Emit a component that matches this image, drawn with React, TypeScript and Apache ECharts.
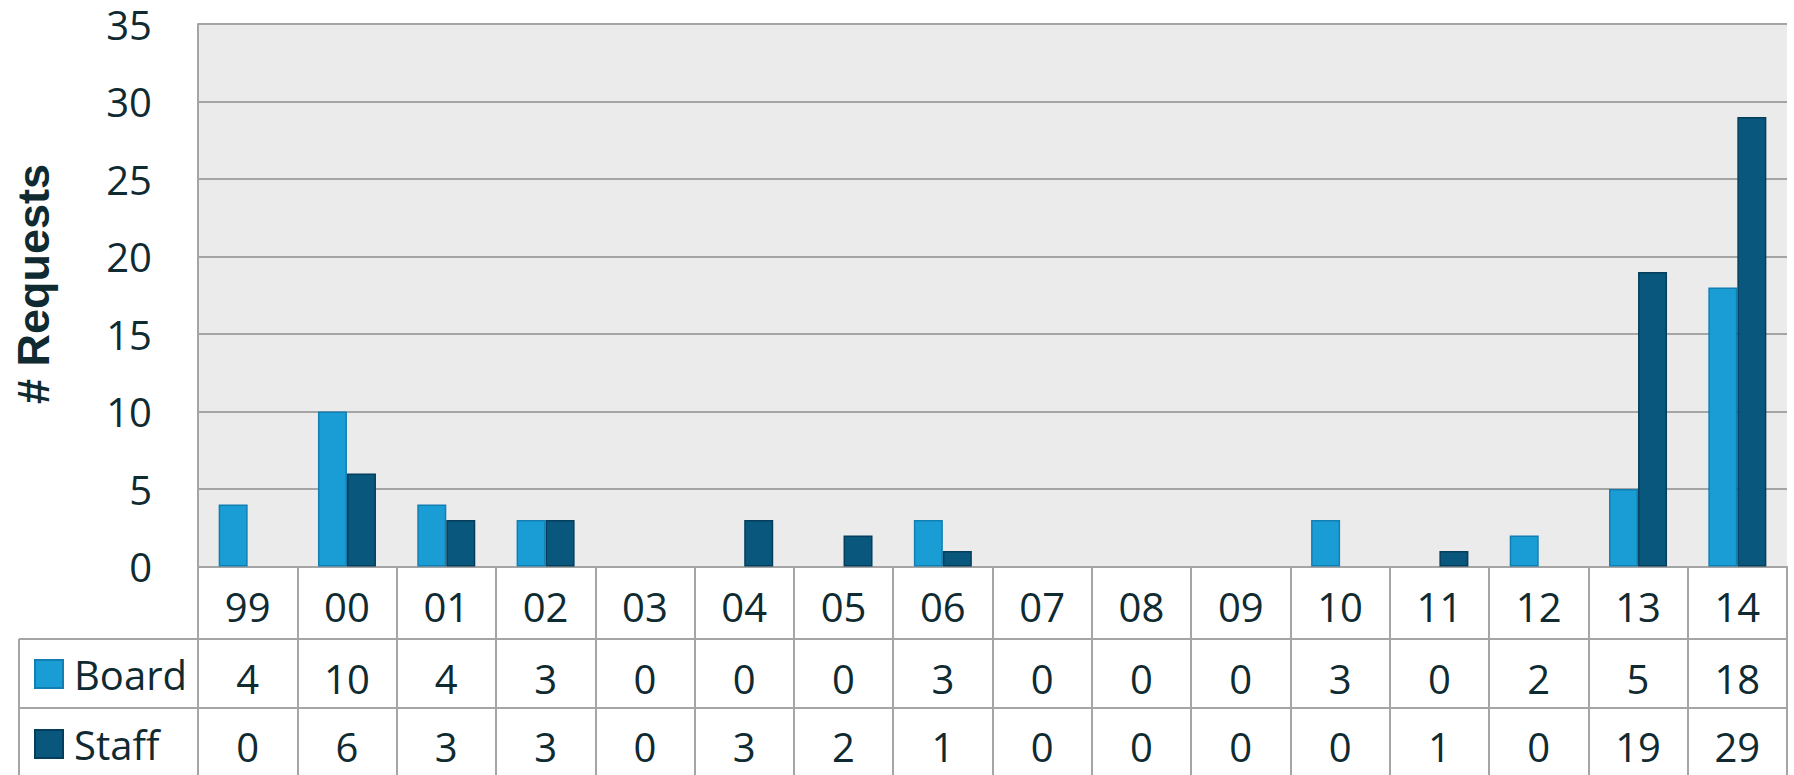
import React, { useEffect, useRef } from "react";
import * as echarts from "echarts";

const categories = ["99", "00", "01", "02", "03", "04", "05", "06", "07", "08", "09", "10", "11", "12", "13", "14"];
const boardValues = [4, 10, 4, 3, 0, 0, 0, 3, 0, 0, 0, 3, 0, 2, 5, 18];
const staffValues = [0, 6, 3, 3, 0, 3, 2, 1, 0, 0, 0, 0, 1, 0, 19, 29];
const seriesNames = ["Board", "Staff"];

const W = 1794;
const H = 775;
const GRID_LEFT = 198;
const GRID_TOP = 24;
const GRID_RIGHT = 1787;
const GRID_BOTTOM = 566.5;
const ROW1 = 639;
const ROW2 = 708;
const TABLE_LEFT = 19;

const TEXT = "#0f2a31";
const LINE = "#a5a5a5";
const FONT = "'Open Sans', sans-serif";

const toBarData = (vals: number[]) =>
  vals.map((v) => (v === 0 ? { value: v, itemStyle: { borderWidth: 0, opacity: 0 } } : v));

export default function App() {
  const ref = useRef<HTMLDivElement>(null);
  useEffect(() => {
    if (!ref.current) return;
    const chart = echarts.init(ref.current, null, { renderer: "svg", width: W, height: H });
    const labelBase = {
      fontSize: 40,
      fontFamily: FONT,
      color: TEXT,
      interval: 0,
      verticalAlign: "middle" as const,
    };
    chart.setOption({
      animation: false,
      backgroundColor: "#ffffff",
      grid: {
        left: GRID_LEFT,
        top: GRID_TOP,
        right: W - GRID_RIGHT,
        bottom: H - GRID_BOTTOM,
        show: true,
        backgroundColor: "#ebebeb",
        borderWidth: 0,
      },
      legend: {
        orient: "vertical",
        left: 34,
        top: 651,
        padding: 0,
        itemWidth: 28,
        itemHeight: 28,
        itemGap: 24,
        selectedMode: false,
        icon: "rect",
        textStyle: { fontSize: 40, fontFamily: FONT, color: TEXT, lineHeight: 40, padding: [6, 0, 0, 6] },
        data: seriesNames,
      },
      xAxis: [
        {
          type: "category",
          data: categories,
          position: "bottom",
          axisLine: { show: true, lineStyle: { color: LINE, width: 2 } },
          axisTick: { show: true, length: H - GRID_BOTTOM + 5, interval: 0, lineStyle: { color: LINE, width: 2 } },
          axisLabel: { ...labelBase, margin: 40 },
          splitLine: { show: false },
        },
        {
          type: "category",
          data: categories,
          position: "bottom",
          axisLine: { show: false },
          axisTick: { show: false },
          axisLabel: { ...labelBase, margin: 112, formatter: (_v: string, i: number) => String(boardValues[i]) },
        },
        {
          type: "category",
          data: categories,
          position: "bottom",
          axisLine: { show: false },
          axisTick: { show: false },
          axisLabel: { ...labelBase, margin: 180, formatter: (_v: string, i: number) => String(staffValues[i]) },
        },
      ],
      yAxis: {
        type: "value",
        min: 0,
        max: 35,
        interval: 5,
        axisLine: { show: true, lineStyle: { color: LINE, width: 2 } },
        axisTick: { show: false },
        axisLabel: { fontSize: 40, fontFamily: FONT, color: TEXT, margin: 46, verticalAlign: "middle", padding: [8, 0, 0, 0] },
        splitLine: { show: true, lineStyle: { color: LINE, width: 2 } },
      },
      graphic: [
        {
          type: "line",
          shape: { x1: TABLE_LEFT, y1: ROW1, x2: GRID_RIGHT, y2: ROW1 },
          style: { stroke: LINE, lineWidth: 2 },
        },
        {
          type: "line",
          shape: { x1: TABLE_LEFT, y1: ROW2, x2: GRID_RIGHT, y2: ROW2 },
          style: { stroke: LINE, lineWidth: 2 },
        },
        {
          type: "line",
          shape: { x1: TABLE_LEFT, y1: ROW1, x2: TABLE_LEFT, y2: H + 5 },
          style: { stroke: LINE, lineWidth: 2 },
        },
        {
          type: "text",
          x: 33,
          y: 284,
          rotation: Math.PI / 2,
          style: {
            text: "# Requests",
            fontSize: 45,
            fontWeight: "bold",
            fontFamily: "'Liberation Sans', Arial, sans-serif",
            fill: TEXT,
            align: "center",
            verticalAlign: "middle",
          },
        },
      ],
      series: [
        {
          name: seriesNames[0],
          type: "bar",
          data: toBarData(boardValues),
          barGap: "0%",
          barCategoryGap: "41.6%",
          itemStyle: { color: "#1a9cd4", borderColor: "#127fb3", borderWidth: 1.5 },
        },
        {
          name: seriesNames[1],
          type: "bar",
          data: toBarData(staffValues),
          barGap: "0%",
          barCategoryGap: "41.6%",
          itemStyle: { color: "#09577d", borderColor: "#053e5c", borderWidth: 1.5 },
        },
      ],
    });
    return () => chart.dispose();
  }, []);
  return <div ref={ref} style={{ position: "fixed", left: 0, top: 0, width: W, height: H }} />;
}
